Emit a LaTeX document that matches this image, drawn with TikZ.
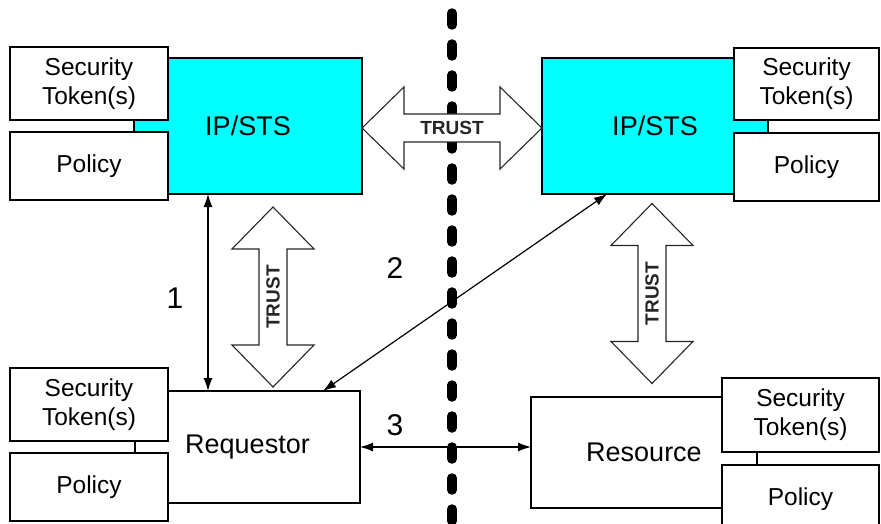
\documentclass[tikz,border=0pt]{standalone}
\usepackage{fontspec}
\setmainfont{Liberation Sans}
\usetikzlibrary{arrows.meta}
\definecolor{stscyan}{RGB}{0,255,255}
\begin{document}
\begin{tikzpicture}[x=1pt,y=-1pt,
  box/.style={draw=black,line width=1.3pt,inner sep=0pt,outer sep=0pt,align=center},
  stsbox/.style={box,fill=stscyan,font=\fontsize{27}{30}\selectfont},
  mainbox/.style={box,fill=white,font=\fontsize{27}{30}\selectfont},
  sidebox/.style={box,fill=white,font=\fontsize{24.5}{29}\selectfont},
  trustline/.style={draw=black!85,line width=1.1pt,fill=white,line join=miter},
  trusttext/.style={font=\bfseries\fontsize{19}{20}\selectfont,text=black!85,inner sep=0pt},
  numlabel/.style={font=\fontsize{30}{32}\selectfont,inner sep=0pt},
  link/.style={line width=1.2pt,{Latex[length=13pt,width=9pt]}-{Latex[length=13pt,width=9pt]}},
  boundary/.style={line width=9.5pt,line cap=round,dash pattern=on 12pt off 19pt},
  trust/.pic={
    \draw[trustline] (-90,0) -- (-48,-41) -- (-48,-14) -- (48,-14) -- (48,-41)
      -- (90,0) -- (48,41) -- (48,14) -- (-48,14) -- (-48,41) -- cycle;
  }]
\useasboundingbox (0,0) rectangle (881,524);
\begin{scope}
\clip (0,0) rectangle (881,524);

% trust boundary between the two domains
\coordinate (btop) at (452,13);
\coordinate (bbot) at (452,540);
\draw[boundary] (btop) -- (bbot);

% left domain: identity provider / STS
\node[stsbox,minimum width=228,minimum height=136] (ipl) at (248,126) {IP/STS};
\node[sidebox,minimum width=158,minimum height=73] (tokl) at (89,83.5) {Security\\Token(s)};
\node[sidebox,minimum width=158,minimum height=68] (poll) at (89,166) {Policy};

% left domain: requestor
\node[mainbox,minimum width=225,minimum height=112] (req) at (247.5,447) {Requestor};
\node[sidebox,minimum width=158,minimum height=73] (tokq) at (89,404.5) {Security\\Token(s)};
\node[sidebox,minimum width=158,minimum height=68] (polq) at (89,487) {Policy};

% right domain: identity provider / STS
\node[stsbox,minimum width=226,minimum height=136] (ipr) at (655,126) {IP/STS};
\node[sidebox,minimum width=145,minimum height=72] (tokr) at (806.5,84) {Security\\Token(s)};
\node[sidebox,minimum width=145,minimum height=68] (polr) at (806.5,167) {Policy};

% right domain: resource
\node[mainbox,minimum width=226,minimum height=111] (res) at (644,452.5) {Resource};
\node[sidebox,minimum width=157,minimum height=74] (toks) at (800.5,415) {Security\\Token(s)};
\node[sidebox,minimum width=157,minimum height=68] (pols) at (800.5,499) {Policy};

% trust relationships
\pic at (452,128) {trust};
\node[trusttext] (t0) at (452,128) {TRUST};
\pic[rotate=90] at (273,297) {trust};
\node[trusttext,rotate=90] (t1) at (273,297) {TRUST};
\pic[rotate=90] at (652,293.5) {trust};
\node[trusttext,rotate=90] (t2) at (652,293.5) {TRUST};

% message exchanges
\coordinate (x1) at (208,0);
\coordinate (x2a) at (607,0);
\coordinate (x2b) at (323,0);
\draw[link] (ipl.south -| x1) -- (req.north -| x1);
\draw[link] (ipr.south -| x2a) -- (req.north -| x2b);
\draw[link] (req.east) -- (req.east -| res.west);

\node[numlabel] (n1) at (175,298) {1};
\node[numlabel] (n2) at (395,268) {2};
\node[numlabel] (n3) at (395,425) {3};
\end{scope}
\end{tikzpicture}
\end{document}
